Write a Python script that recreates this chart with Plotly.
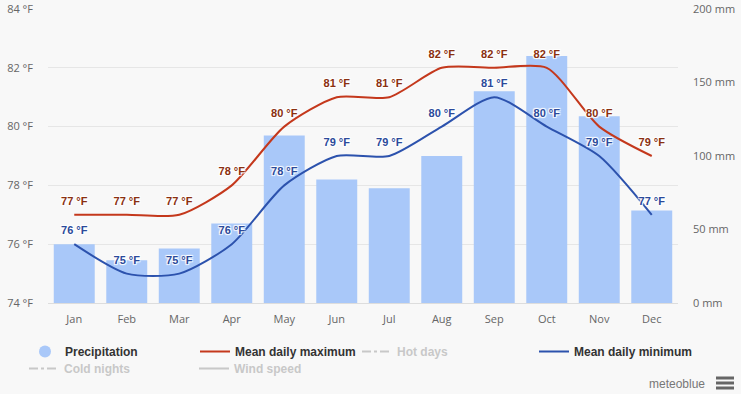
import plotly.graph_objects as go

months = ["Jan", "Feb", "Mar", "Apr", "May", "Jun", "Jul", "Aug", "Sep", "Oct", "Nov", "Dec"]
precip_mm = [40, 29, 37, 54, 114, 84, 78, 100, 144, 168, 127, 63]
temp_max_f = [77, 77, 77, 78, 80, 81, 81, 82, 82, 82, 80, 79]
temp_min_f = [76, 75, 75, 76, 78, 79, 79, 80, 81, 80, 79, 77]
temp_ticks = [74, 76, 78, 80, 82, 84]
mm_ticks = [0, 50, 100, 150, 200]

BAR = "#a9c8f9"
RED = "#c4381c"
BLUE = "#2c52ad"
RED_TXT = "#8a3010"
BLUE_TXT = "#2b4a9a"
BG = "#f8f8f8"
W, H = 741, 394
L, R, T, B = 48, 63, 9, 91
PW, PH = W - L - R, H - T - B

outline = "1px 1px 1px #ffffff, -1px -1px 1px #ffffff, 1px -1px 1px #ffffff, -1px 1px 1px #ffffff"
lab_font = dict(family="Liberation Sans", size=11, weight="bold")
SMOOTH = 0.7

fig = go.Figure()
fig.add_trace(go.Bar(x=months, y=precip_mm, marker=dict(color=BAR, line=dict(width=0)),
                     yaxis="y", showlegend=False, name="Precipitation"))
fig.add_trace(go.Scatter(x=[None], y=[None], mode="markers", name="Precipitation",
                         marker=dict(symbol="circle", size=12, color=BAR), legend="legend"))
fig.add_trace(go.Scatter(x=months, y=temp_max_f, yaxis="y2", mode="lines", name="Mean daily maximum",
                         line=dict(color=RED, width=2, shape="spline", smoothing=SMOOTH), legend="legend"))
fig.add_trace(go.Scatter(x=[None], y=[None], yaxis="y2", mode="lines", name="Hot days",
                         line=dict(color="#999999", width=2, dash="dashdot"),
                         visible="legendonly", legend="legend2"))
fig.add_trace(go.Scatter(x=months, y=temp_min_f, yaxis="y2", mode="lines", name="Mean daily minimum",
                         line=dict(color=BLUE, width=2, shape="spline", smoothing=SMOOTH), legend="legend3"))
fig.add_trace(go.Scatter(x=[None], y=[None], yaxis="y2", mode="lines", name="Cold nights",
                         line=dict(color="#999999", width=2, dash="dashdot"),
                         visible="legendonly", legend="legend4"))
fig.add_trace(go.Scatter(x=[None], y=[None], yaxis="y2", mode="lines", name="Wind speed",
                         line=dict(color="#999999", width=2),
                         visible="legendonly", legend="legend4"))
# data labels
for vals, col in ((temp_max_f, RED_TXT), (temp_min_f, BLUE_TXT)):
    fig.add_trace(go.Scatter(x=months, y=vals, yaxis="y2", mode="markers+text", showlegend=False,
                             marker=dict(size=10, opacity=0), hoverinfo="skip",
                             text=[f"{v} °F" for v in vals], textposition="top center",
                             textfont=dict(color=col, shadow=outline, **lab_font)))

tick_font = dict(family="Open Sans", size=11, color="#666666")
leg_font = dict(family="Liberation Sans", size=12, weight="bold", color="#333333")
grey_font = dict(family="Liberation Sans", size=12, weight="bold", color="#999999")


def px_x(p):
    return (p - L) / PW


def px_y(p):
    return (H - B - p) / PH


def leg(xpx, ypx, font):
    return dict(orientation="h", xref="paper", yref="paper", x=px_x(xpx), y=px_y(ypx),
                xanchor="left", yanchor="top", entrywidth=125, entrywidthmode="pixels",
                itemwidth=30, bgcolor="rgba(0,0,0,0)", font=font, traceorder="normal")


shapes = []
for yy in (378, 383, 388):
    shapes.append(dict(type="line", xref="paper", yref="paper", x0=px_x(716), x1=px_x(734),
                       y0=px_y(yy), y1=px_y(yy), line=dict(color="#666666", width=3)))

fig.update_layout(
    width=W, height=H, margin=dict(l=L, r=R, t=T, b=B, autoexpand=False),
    paper_bgcolor=BG, plot_bgcolor=BG, bargap=0.22,
    xaxis=dict(type="category", categoryorder="array", categoryarray=months, range=[-0.5, 11.5],
               tickfont=tick_font, showgrid=False, showline=True, linecolor="#dddddd",
               ticks="", ticklabelstandoff=6, fixedrange=True, automargin=False),
    yaxis=dict(side="right", range=[0, 200], tickvals=mm_ticks, ticktext=[f"{v} mm" for v in mm_ticks],
               tickfont=tick_font, showgrid=False, zeroline=False, ticklabelstandoff=14, automargin=False),
    yaxis2=dict(side="left", overlaying="y", range=[74, 84], tickvals=temp_ticks,
                ticktext=[f"{v} °F" for v in temp_ticks], tickfont=tick_font,
                showgrid=True, gridcolor="#e6e6e6", zeroline=False, ticklabelstandoff=14, automargin=False),
    legend=leg(25, 337, leg_font),
    legend2=leg(357, 337, grey_font),
    legend3=leg(534, 337, leg_font),
    legend4=leg(24, 354, grey_font),
    annotations=[dict(text="meteoblue", xref="paper", yref="paper", x=px_x(707), y=px_y(384),
                      xanchor="right", yanchor="middle", showarrow=False,
                      font=dict(family="Liberation Sans", size=12, color="#777777"))],
    shapes=shapes,
)

fig.write_html("out.html", config={"displayModeBar": False},
               post_script="document.body.style.margin='0';")
